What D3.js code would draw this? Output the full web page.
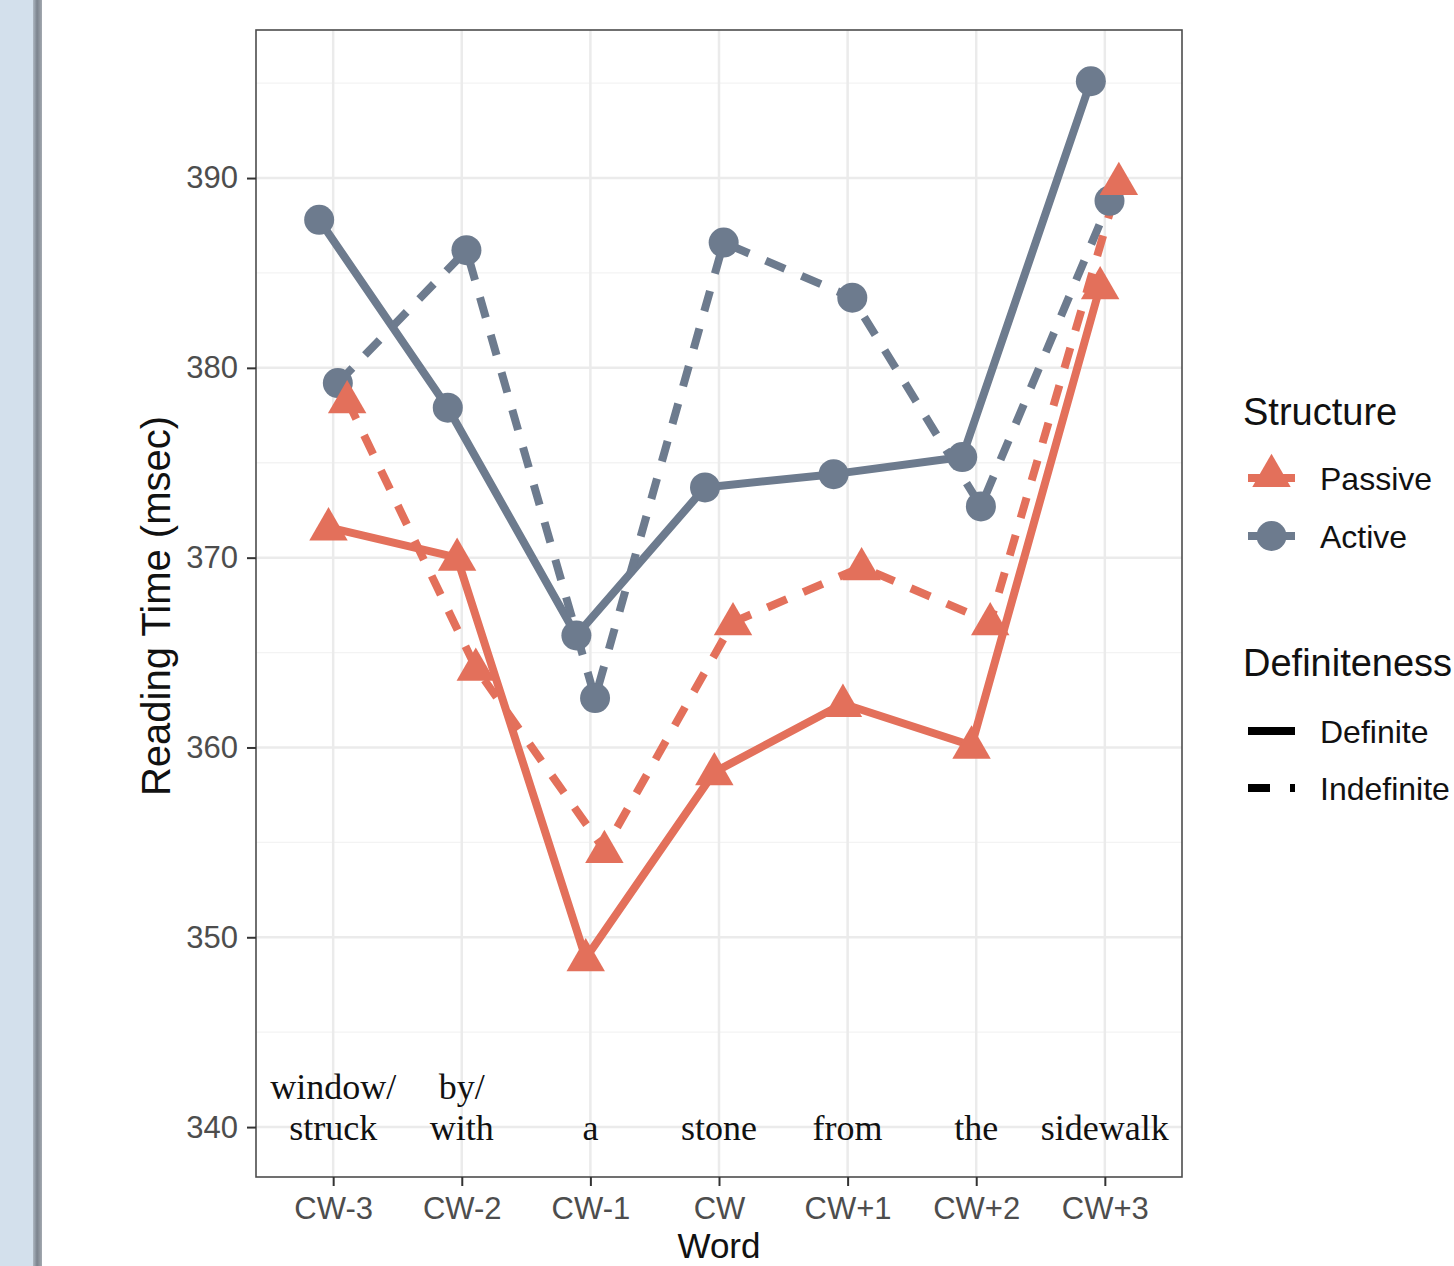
<!DOCTYPE html>
<html>
<head>
<meta charset="utf-8">
<script src="https://cdn.jsdelivr.net/npm/d3@7"></script>
<style>
  body { margin: 0; background: #fff; }
  svg { display: block; }
</style>
</head>
<body>
<div id="svg-container"></div>
<script>
////////////////////////////////////////////////////////////////////
////////////////////////////  Data  ////////////////////////////////
const words = ["CW-3", "CW-2", "CW-1", "CW", "CW+1", "CW+2", "CW+3"];
const wordLabels = [["window/", "struck"], ["by/", "with"], ["a"], ["stone"], ["from"], ["the"], ["sidewalk"]];

// reading time (msec)
const passiveDefinite = [371.6, 370.0, 348.9, 358.7, 362.3, 360.1, 384.3];
const passiveIndefinite = [378.3, 364.2, 354.6, 366.6, 369.5, 366.6, 389.8];
const activeDefinite = [387.8, 377.9, 365.9, 373.7, 374.4, 375.3, 395.1];
const activeIndefinite = [379.2, 386.2, 362.6, 386.6, 383.7, 372.7, 388.8];

const yTicks = [340, 350, 360, 370, 380, 390];
const yMinor = [345, 355, 365, 375, 385, 395];

const structures = ["Passive", "Active"];
const definiteness = ["Definite", "Indefinite"];

////////////////////////////////////////////////////////////////////
////////////////////////////  Init  ////////////////////////////////
const width = 1454;
const height = 1266;
const svg = d3.select("#svg-container").append("svg")
  .attr("width", width).attr("height", height);

const colors = { Passive: "#e3705b", Active: "#6d7b8e" };
const sans = "'Liberation Sans', Arial, sans-serif";
const serif = "'Liberation Serif', 'Times New Roman', serif";

// left window strip
const defs = svg.append("defs");
const grad = defs.append("linearGradient").attr("id", "edge");
grad.append("stop").attr("offset", "0%").attr("stop-color", "#aeb8c2");
grad.append("stop").attr("offset", "45%").attr("stop-color", "#7b838d");
grad.append("stop").attr("offset", "100%").attr("stop-color", "#a3a9b0");
svg.append("rect").attr("x", 0).attr("y", 0).attr("width", 33).attr("height", height).attr("fill", "#d3e0ec");
svg.append("rect").attr("x", 33).attr("y", 0).attr("width", 9).attr("height", height).attr("fill", "url(#edge)");

const panel = { left: 256, right: 1182, top: 30, bottom: 1177 };

// scales
const xScale = d3.scalePoint().domain(words).range([panel.left, panel.right]).padding(0.6);
const yScale = d3.scaleLinear().domain([337.37, 397.8]).range([panel.bottom, panel.top]);

const series = [
  { key: "Active.Definite", structure: "Active", def: "Definite", values: activeDefinite },
  { key: "Passive.Definite", structure: "Passive", def: "Definite", values: passiveDefinite },
  { key: "Active.Indefinite", structure: "Active", def: "Indefinite", values: activeIndefinite },
  { key: "Passive.Indefinite", structure: "Passive", def: "Indefinite", values: passiveIndefinite }
];
const dodge = d3.scalePoint().domain(series.map((s) => s.key)).range([-14, 14]);

////////////////////////////////////////////////////////////////////
////////////////////////////  Grid  ////////////////////////////////
const grid = svg.append("g");
grid.selectAll(".minor").data(yMinor).join("line")
  .attr("x1", panel.left).attr("x2", panel.right)
  .attr("y1", (d) => yScale(d)).attr("y2", (d) => yScale(d))
  .attr("stroke", "#f3f3f3").attr("stroke-width", 1.3);
grid.selectAll(".major").data(yTicks).join("line")
  .attr("x1", panel.left).attr("x2", panel.right)
  .attr("y1", (d) => yScale(d)).attr("y2", (d) => yScale(d))
  .attr("stroke", "#ebebeb").attr("stroke-width", 2.5);
grid.selectAll(".vmajor").data(words).join("line")
  .attr("x1", (d) => xScale(d)).attr("x2", (d) => xScale(d))
  .attr("y1", panel.top).attr("y2", panel.bottom)
  .attr("stroke", "#ebebeb").attr("stroke-width", 2.5);

// word annotations
const ann = svg.append("g").attr("font-family", serif).attr("font-size", 36)
  .attr("fill", "#111").attr("text-anchor", "middle");
words.forEach((w, i) => {
  const lines = wordLabels[i];
  lines.forEach((t, j) => {
    ann.append("text")
      .attr("x", xScale(w))
      .attr("y", yScale(340) + 13 - (lines.length - 1 - j) * 41)
      .text(t);
  });
});

////////////////////////////////////////////////////////////////////
////////////////////////////  Lines  ///////////////////////////////
const line = d3.line()
  .x((d) => d.x)
  .y((d) => yScale(d.v));

series.forEach((s) => {
  s.points = s.values.map((v, i) => ({ x: xScale(words[i]) + dodge(s.key), v }));
});

svg.append("g").selectAll("path").data(series).join("path")
  .attr("d", (s) => line(s.points))
  .attr("fill", "none")
  .attr("stroke", (s) => colors[s.structure])
  .attr("stroke-width", 8)
  .attr("stroke-linejoin", "round")
  .attr("stroke-dasharray", (s) => (s.def === "Indefinite" ? "21,18" : null));

const tri = d3.symbol().type(d3.symbolTriangle).size(640);
const pts = svg.append("g");
series.forEach((s) => {
  if (s.structure === "Active") {
    pts.selectAll(null).data(s.points).join("circle")
      .attr("cx", (d) => d.x).attr("cy", (d) => yScale(d.v))
      .attr("r", 15).attr("fill", colors.Active);
  } else {
    pts.selectAll(null).data(s.points).join("path")
      .attr("d", tri)
      .attr("transform", (d) => `translate(${d.x},${yScale(d.v) + 2})`)
      .attr("fill", colors.Passive);
  }
});

// panel border
svg.append("rect")
  .attr("x", panel.left).attr("y", panel.top)
  .attr("width", panel.right - panel.left).attr("height", panel.bottom - panel.top)
  .attr("fill", "none").attr("stroke", "#4d4d4d").attr("stroke-width", 1.6);

////////////////////////////////////////////////////////////////////
////////////////////////////  Axes  ////////////////////////////////
const xAxis = d3.axisBottom(xScale).tickSize(9).tickPadding(6).tickSizeOuter(0);
const yAxis = d3.axisLeft(yScale).tickValues(yTicks).tickSize(9).tickPadding(6).tickSizeOuter(0);

const gx = svg.append("g").attr("transform", `translate(0,${panel.bottom})`).call(xAxis);
const gy = svg.append("g").attr("transform", `translate(${panel.left},0)`).call(yAxis);
[gx, gy].forEach((g) => {
  g.select(".domain").remove();
  g.selectAll(".tick line").attr("stroke", "#333").attr("stroke-width", 2);
  g.selectAll(".tick text").attr("fill", "#4d4d4d").attr("font-family", sans).attr("font-size", 31);
});
gx.selectAll(".tick text").attr("dy", "0.71em").attr("y", 20);
gy.selectAll(".tick text").attr("x", -18);

svg.append("text")
  .attr("x", xScale("CW")).attr("y", 1258)
  .attr("text-anchor", "middle").attr("font-family", sans).attr("font-size", 35)
  .attr("fill", "#111").text("Word");

svg.append("text")
  .attr("transform", "translate(170,606) rotate(-90)")
  .attr("text-anchor", "middle").attr("font-family", sans).attr("font-size", 40)
  .attr("fill", "#111").text("Reading Time (msec)");

////////////////////////////////////////////////////////////////////
////////////////////////////  Legend  //////////////////////////////
const legend = svg.append("g").attr("font-family", sans).attr("fill", "#111");
const keyX0 = 1248, keyX1 = 1295, keyXc = 1271.5, labelX = 1320;

legend.append("text").attr("x", 1243).attr("y", 425).attr("font-size", 38).text("Structure");
const structRows = [478, 536];
structures.forEach((st, i) => {
  const y = structRows[i];
  legend.append("line").attr("x1", keyX0).attr("x2", keyX1).attr("y1", y).attr("y2", y)
    .attr("stroke", colors[st]).attr("stroke-width", 8);
  if (st === "Active") {
    legend.append("circle").attr("cx", keyXc).attr("cy", y).attr("r", 15).attr("fill", colors.Active);
  } else {
    legend.append("path").attr("d", tri).attr("transform", `translate(${keyXc},${y - 2})`).attr("fill", colors.Passive);
  }
  legend.append("text").attr("x", labelX).attr("y", y + 12).attr("font-size", 32).text(st);
});

legend.append("text").attr("x", 1243).attr("y", 676).attr("font-size", 38).text("Definiteness");
const defRows = [731, 788];
definiteness.forEach((df, i) => {
  const y = defRows[i];
  legend.append("line").attr("x1", keyX0).attr("x2", keyX1).attr("y1", y).attr("y2", y)
    .attr("stroke", "#000").attr("stroke-width", 8)
    .attr("stroke-dasharray", df === "Indefinite" ? "22,20" : null);
  legend.append("text").attr("x", labelX).attr("y", y + 12).attr("font-size", 32).text(df);
});
</script>
</body>
</html>
